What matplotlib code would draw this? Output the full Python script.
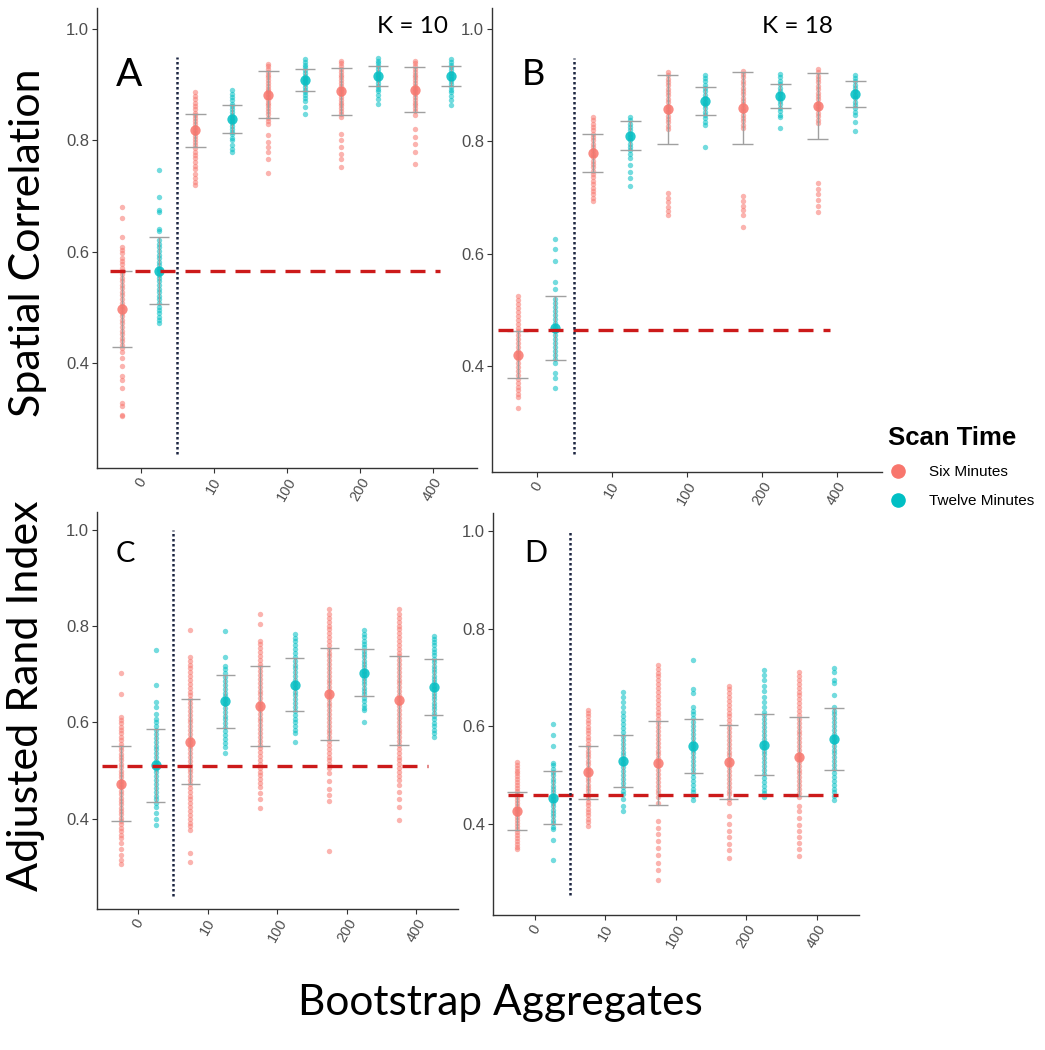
import numpy as np
import matplotlib
matplotlib.use('Agg')
import matplotlib.pyplot as plt
from matplotlib.lines import Line2D

# categories on the x axis
categories = ['0', '10', '100', '200', '400']
y_ticks = [0.4, 0.6, 0.8, 1.0]

# ---- Panel A: K = 10, spatial correlation ----
a_six = [
    [0.681, 0.660, 0.627, 0.609, 0.603, 0.598, 0.590, 0.584, 0.578, 0.571, 0.565, 0.560, 0.553, 0.547, 0.541,
     0.535, 0.528, 0.522, 0.515, 0.509, 0.503, 0.497, 0.491, 0.485, 0.478, 0.472, 0.466, 0.459, 0.452, 0.446,
     0.440, 0.433, 0.427, 0.420, 0.410, 0.395, 0.377, 0.371, 0.356, 0.329, 0.323, 0.308, 0.305],
    [0.887, 0.880, 0.874, 0.868, 0.862, 0.856, 0.850, 0.845, 0.840, 0.834, 0.829, 0.824, 0.818, 0.813, 0.808,
     0.802, 0.797, 0.791, 0.786, 0.780, 0.774, 0.768, 0.762, 0.755, 0.748, 0.740, 0.733, 0.725, 0.720],
    [0.937, 0.933, 0.928, 0.923, 0.918, 0.913, 0.908, 0.903, 0.898, 0.893, 0.888, 0.883, 0.878, 0.873, 0.868,
     0.863, 0.858, 0.853, 0.847, 0.841, 0.835, 0.830, 0.810, 0.798, 0.788, 0.779, 0.767, 0.741],
    [0.943, 0.938, 0.933, 0.928, 0.923, 0.918, 0.913, 0.908, 0.903, 0.898, 0.893, 0.888, 0.883, 0.878, 0.873,
     0.868, 0.863, 0.858, 0.853, 0.848, 0.842, 0.812, 0.800, 0.788, 0.776, 0.767, 0.753],
    [0.943, 0.938, 0.933, 0.928, 0.923, 0.918, 0.913, 0.908, 0.903, 0.898, 0.893, 0.888, 0.883, 0.878, 0.873,
     0.868, 0.863, 0.858, 0.852, 0.846, 0.820, 0.806, 0.794, 0.780, 0.758],
]
a_twelve = [
    [0.747, 0.699, 0.675, 0.671, 0.642, 0.637, 0.621, 0.615, 0.608, 0.601, 0.595, 0.589, 0.582, 0.576, 0.570,
     0.565, 0.559, 0.553, 0.547, 0.540, 0.534, 0.528, 0.521, 0.515, 0.509, 0.502, 0.496, 0.490, 0.484, 0.478, 0.472],
    [0.890, 0.884, 0.878, 0.872, 0.866, 0.861, 0.856, 0.851, 0.846, 0.841, 0.836, 0.831, 0.826, 0.821, 0.816,
     0.811, 0.805, 0.800, 0.792, 0.785, 0.779],
    [0.946, 0.941, 0.936, 0.931, 0.926, 0.921, 0.916, 0.911, 0.906, 0.901, 0.896, 0.891, 0.886, 0.881, 0.876,
     0.871, 0.860, 0.848],
    [0.948, 0.943, 0.938, 0.933, 0.928, 0.923, 0.918, 0.913, 0.908, 0.903, 0.898, 0.893, 0.888, 0.882, 0.875, 0.866],
    [0.946, 0.941, 0.936, 0.931, 0.926, 0.921, 0.916, 0.911, 0.906, 0.901, 0.896, 0.891, 0.886, 0.880, 0.872, 0.863],
]
a_six_mean = [0.497, 0.818, 0.882, 0.888, 0.891]
a_six_sd = [0.068, 0.029, 0.042, 0.042, 0.040]
a_twelve_mean = [0.566, 0.839, 0.908, 0.915, 0.915]
a_twelve_sd = [0.060, 0.025, 0.020, 0.018, 0.018]
a_baseline = 0.565

# ---- Panel B: K = 18, spatial correlation ----
b_six = [
    [0.525, 0.518, 0.511, 0.504, 0.497, 0.490, 0.483, 0.476, 0.469, 0.462, 0.455, 0.448, 0.441, 0.434, 0.427,
     0.420, 0.413, 0.406, 0.399, 0.392, 0.385, 0.378, 0.371, 0.364, 0.357, 0.350, 0.345, 0.326],
    [0.844, 0.838, 0.832, 0.826, 0.820, 0.814, 0.808, 0.802, 0.796, 0.790, 0.784, 0.778, 0.772, 0.766, 0.760,
     0.754, 0.748, 0.742, 0.736, 0.730, 0.724, 0.718, 0.712, 0.706, 0.700, 0.694],
    [0.924, 0.918, 0.912, 0.906, 0.900, 0.894, 0.888, 0.882, 0.876, 0.870, 0.864, 0.858, 0.852, 0.846, 0.840,
     0.834, 0.828, 0.822, 0.709, 0.700, 0.692, 0.684, 0.676, 0.670],
    [0.926, 0.920, 0.914, 0.908, 0.902, 0.896, 0.890, 0.884, 0.878, 0.872, 0.866, 0.860, 0.854, 0.848, 0.842,
     0.836, 0.830, 0.824, 0.703, 0.694, 0.686, 0.678, 0.670, 0.648],
    [0.929, 0.923, 0.917, 0.911, 0.905, 0.899, 0.893, 0.887, 0.881, 0.875, 0.869, 0.863, 0.857, 0.851, 0.845,
     0.839, 0.833, 0.726, 0.716, 0.706, 0.696, 0.686, 0.674],
]
b_twelve = [
    [0.626, 0.609, 0.588, 0.550, 0.538, 0.520, 0.512, 0.505, 0.498, 0.491, 0.484, 0.477, 0.470, 0.463, 0.456,
     0.449, 0.442, 0.435, 0.428, 0.420, 0.413, 0.406, 0.388, 0.380, 0.362],
    [0.844, 0.838, 0.832, 0.826, 0.820, 0.814, 0.808, 0.802, 0.796, 0.790, 0.784, 0.778, 0.770, 0.759, 0.746,
     0.735, 0.720],
    [0.919, 0.913, 0.907, 0.901, 0.895, 0.889, 0.883, 0.877, 0.871, 0.865, 0.859, 0.853, 0.847, 0.841, 0.835,
     0.829, 0.790],
    [0.920, 0.914, 0.908, 0.902, 0.896, 0.890, 0.884, 0.878, 0.872, 0.866, 0.860, 0.854, 0.848, 0.843, 0.824],
    [0.919, 0.913, 0.907, 0.901, 0.895, 0.889, 0.883, 0.877, 0.871, 0.865, 0.859, 0.853, 0.847, 0.835, 0.818],
]
b_six_mean = [0.421, 0.779, 0.857, 0.859, 0.863]
b_six_sd = [0.041, 0.034, 0.061, 0.064, 0.059]
b_twelve_mean = [0.468, 0.810, 0.872, 0.881, 0.885]
b_twelve_sd = [0.057, 0.026, 0.025, 0.022, 0.023]
b_baseline = 0.465

# ---- Panel C: K = 10, adjusted rand index ----
c_six = [
    [0.702, 0.659, 0.611, 0.605, 0.598, 0.591, 0.584, 0.577, 0.570, 0.563, 0.556, 0.549, 0.542, 0.535, 0.528,
     0.521, 0.514, 0.507, 0.500, 0.493, 0.486, 0.479, 0.472, 0.465, 0.458, 0.451, 0.444, 0.437, 0.430, 0.423,
     0.416, 0.409, 0.402, 0.395, 0.388, 0.381, 0.374, 0.367, 0.360, 0.350, 0.338, 0.325, 0.315, 0.305],
    [0.791, 0.735, 0.728, 0.720, 0.712, 0.704, 0.696, 0.688, 0.680, 0.672, 0.664, 0.656, 0.648, 0.640, 0.632,
     0.624, 0.616, 0.608, 0.600, 0.592, 0.584, 0.576, 0.568, 0.560, 0.552, 0.544, 0.536, 0.528, 0.520, 0.512,
     0.504, 0.496, 0.488, 0.480, 0.472, 0.464, 0.456, 0.448, 0.440, 0.432, 0.424, 0.416, 0.408, 0.400, 0.392,
     0.384, 0.377, 0.329, 0.310],
    [0.825, 0.805, 0.770, 0.762, 0.754, 0.746, 0.738, 0.730, 0.722, 0.714, 0.706, 0.698, 0.690, 0.682, 0.674,
     0.666, 0.658, 0.650, 0.642, 0.634, 0.626, 0.618, 0.610, 0.602, 0.594, 0.586, 0.578, 0.570, 0.562, 0.554,
     0.546, 0.538, 0.530, 0.522, 0.514, 0.506, 0.498, 0.490, 0.482, 0.474, 0.466, 0.453, 0.440, 0.422],
    [0.835, 0.825, 0.817, 0.809, 0.801, 0.793, 0.785, 0.777, 0.769, 0.761, 0.753, 0.745, 0.737, 0.729, 0.721,
     0.713, 0.705, 0.697, 0.689, 0.681, 0.673, 0.665, 0.657, 0.649, 0.641, 0.633, 0.625, 0.617, 0.609, 0.601,
     0.593, 0.585, 0.577, 0.569, 0.561, 0.553, 0.545, 0.537, 0.529, 0.521, 0.513, 0.505, 0.494, 0.478, 0.462,
     0.450, 0.436, 0.332],
    [0.835, 0.825, 0.817, 0.809, 0.801, 0.793, 0.785, 0.777, 0.769, 0.761, 0.753, 0.745, 0.737, 0.729, 0.721,
     0.713, 0.705, 0.697, 0.689, 0.681, 0.673, 0.665, 0.657, 0.649, 0.641, 0.633, 0.625, 0.617, 0.609, 0.601,
     0.593, 0.585, 0.577, 0.569, 0.561, 0.553, 0.545, 0.537, 0.529, 0.521, 0.513, 0.505, 0.497, 0.489, 0.481,
     0.470, 0.456, 0.440, 0.425, 0.398],
]
c_twelve = [
    [0.750, 0.677, 0.642, 0.632, 0.618, 0.608, 0.600, 0.592, 0.584, 0.576, 0.568, 0.560, 0.552, 0.544, 0.536,
     0.528, 0.520, 0.512, 0.504, 0.496, 0.488, 0.480, 0.472, 0.464, 0.456, 0.448, 0.440, 0.432, 0.424, 0.412,
     0.400, 0.387],
    [0.790, 0.736, 0.718, 0.710, 0.702, 0.694, 0.686, 0.678, 0.670, 0.662, 0.654, 0.646, 0.638, 0.630, 0.622,
     0.614, 0.606, 0.598, 0.590, 0.582, 0.574, 0.566, 0.557, 0.549, 0.537],
    [0.783, 0.776, 0.768, 0.760, 0.752, 0.744, 0.736, 0.728, 0.720, 0.712, 0.704, 0.696, 0.688, 0.680, 0.672,
     0.664, 0.656, 0.648, 0.640, 0.632, 0.624, 0.616, 0.608, 0.600, 0.592, 0.584, 0.577, 0.560],
    [0.791, 0.784, 0.777, 0.770, 0.763, 0.756, 0.749, 0.742, 0.735, 0.728, 0.721, 0.714, 0.707, 0.700, 0.693,
     0.686, 0.679, 0.672, 0.665, 0.658, 0.651, 0.644, 0.637, 0.630, 0.625, 0.601],
    [0.780, 0.774, 0.767, 0.760, 0.753, 0.746, 0.739, 0.732, 0.725, 0.718, 0.711, 0.704, 0.697, 0.690, 0.683,
     0.676, 0.669, 0.662, 0.655, 0.648, 0.641, 0.634, 0.627, 0.620, 0.613, 0.606, 0.599, 0.592, 0.585, 0.578, 0.570],
]
c_six_mean = [0.473, 0.560, 0.634, 0.659, 0.646]
c_six_sd = [0.078, 0.088, 0.084, 0.095, 0.092]
c_twelve_mean = [0.511, 0.644, 0.678, 0.703, 0.674]
c_twelve_sd = [0.076, 0.055, 0.055, 0.049, 0.058]
c_baseline = 0.510

# ---- Panel D: K = 18, adjusted rand index ----
d_six = [
    [0.526, 0.521, 0.515, 0.509, 0.503, 0.497, 0.491, 0.485, 0.479, 0.473, 0.467, 0.461, 0.455, 0.449, 0.443,
     0.437, 0.431, 0.425, 0.419, 0.413, 0.407, 0.401, 0.395, 0.389, 0.383, 0.377, 0.371, 0.365, 0.359, 0.353, 0.347],
    [0.633, 0.627, 0.620, 0.613, 0.606, 0.599, 0.592, 0.585, 0.578, 0.571, 0.564, 0.557, 0.550, 0.543, 0.536,
     0.529, 0.522, 0.515, 0.508, 0.501, 0.494, 0.487, 0.480, 0.473, 0.466, 0.459, 0.452, 0.445, 0.438, 0.431,
     0.424, 0.417, 0.410, 0.403, 0.395],
    [0.726, 0.718, 0.710, 0.702, 0.694, 0.686, 0.678, 0.670, 0.662, 0.654, 0.646, 0.638, 0.630, 0.622, 0.614,
     0.606, 0.598, 0.590, 0.582, 0.574, 0.566, 0.558, 0.550, 0.542, 0.534, 0.526, 0.518, 0.510, 0.502, 0.494,
     0.486, 0.478, 0.470, 0.462, 0.454, 0.443, 0.405, 0.392, 0.378, 0.365, 0.350, 0.335, 0.320, 0.305, 0.285],
    [0.683, 0.676, 0.668, 0.660, 0.652, 0.644, 0.636, 0.628, 0.620, 0.612, 0.604, 0.596, 0.588, 0.580, 0.572,
     0.564, 0.556, 0.548, 0.540, 0.532, 0.524, 0.516, 0.508, 0.500, 0.492, 0.484, 0.476, 0.468, 0.460, 0.451,
     0.443, 0.415, 0.400, 0.385, 0.372, 0.358, 0.345, 0.330],
    [0.711, 0.703, 0.695, 0.687, 0.679, 0.671, 0.663, 0.655, 0.647, 0.639, 0.631, 0.623, 0.615, 0.607, 0.599,
     0.591, 0.583, 0.575, 0.567, 0.559, 0.551, 0.543, 0.535, 0.527, 0.519, 0.511, 0.503, 0.495, 0.487, 0.479,
     0.471, 0.463, 0.455, 0.436, 0.425, 0.412, 0.398, 0.385, 0.373, 0.360, 0.347, 0.333],
]
d_twelve = [
    [0.605, 0.581, 0.559, 0.525, 0.520, 0.513, 0.506, 0.499, 0.492, 0.485, 0.478, 0.471, 0.464, 0.457, 0.450,
     0.443, 0.436, 0.429, 0.422, 0.415, 0.408, 0.401, 0.394, 0.388, 0.367, 0.326],
    [0.670, 0.660, 0.650, 0.640, 0.630, 0.620, 0.612, 0.604, 0.596, 0.588, 0.580, 0.572, 0.564, 0.556, 0.548,
     0.540, 0.532, 0.524, 0.516, 0.508, 0.500, 0.492, 0.484, 0.476, 0.468, 0.460, 0.450, 0.437, 0.425],
    [0.735, 0.676, 0.669, 0.640, 0.632, 0.624, 0.616, 0.608, 0.600, 0.592, 0.584, 0.576, 0.568, 0.560, 0.552,
     0.544, 0.536, 0.528, 0.520, 0.512, 0.504, 0.496, 0.488, 0.480, 0.472, 0.464, 0.456, 0.449],
    [0.716, 0.705, 0.694, 0.683, 0.672, 0.660, 0.650, 0.640, 0.630, 0.622, 0.614, 0.606, 0.598, 0.590, 0.582,
     0.574, 0.566, 0.558, 0.550, 0.542, 0.534, 0.526, 0.518, 0.510, 0.502, 0.494, 0.486, 0.478, 0.470, 0.462, 0.455],
    [0.720, 0.712, 0.695, 0.688, 0.664, 0.640, 0.632, 0.624, 0.616, 0.608, 0.600, 0.592, 0.584, 0.576, 0.568,
     0.560, 0.552, 0.544, 0.536, 0.528, 0.520, 0.512, 0.504, 0.496, 0.488, 0.480, 0.472, 0.464, 0.456, 0.449],
]
d_six_mean = [0.425, 0.505, 0.525, 0.526, 0.537]
d_six_sd = [0.039, 0.054, 0.086, 0.076, 0.081]
d_twelve_mean = [0.453, 0.529, 0.559, 0.562, 0.574]
d_twelve_sd = [0.054, 0.053, 0.056, 0.062, 0.064]
d_baseline = 0.458

six_color = '#F8766D'
twelve_color = '#00BFC4'

W, H = 1045, 1050
fig = plt.figure(figsize=(W / 100, H / 100), dpi=100)
plt.rcParams['font.family'] = ['Liberation Sans', 'DejaVu Sans']


def px_axes(left, top, right, bottom):
    # axes placed from pixel edges
    return fig.add_axes([left / W, 1 - bottom / H, (right - left) / W, (bottom - top) / H])


def draw_panel(ax, six, twelve, six_mean, six_sd, tw_mean, tw_sd, baseline, hspan, vspan):
    for i in range(len(categories)):
        for vals, m, sd, off, col in [(six[i], six_mean[i], six_sd[i], -0.25, six_color),
                                      (twelve[i], tw_mean[i], tw_sd[i], 0.25, twelve_color)]:
            x = i + 1 + off
            ax.scatter(np.full(len(vals), x), vals, s=15, color=col, alpha=0.55, linewidths=0, zorder=2)
            ax.vlines(x, m - sd, m + sd, color='#a0a0a0', lw=1, zorder=3)
            ax.hlines([m - sd, m + sd], x - 0.14, x + 0.14, color='#a0a0a0', lw=1, zorder=3)
            ax.scatter([x], [m], s=55, color=col, alpha=0.85, linewidths=0, zorder=4)
    ax.plot(hspan, [baseline, baseline], color='#cc1a1a', lw=2.4, dashes=(4.5, 3), zorder=5)
    ax.plot([1.5, 1.5], vspan, color='#1c2541', lw=1.8, ls=(0, (1, 1)), zorder=5)

    ax.set_xlim(0.4, 5.6)
    ax.set_ylim(0.2125, 1.0375)
    ax.set_xticks(range(1, 6))
    ax.set_xticklabels(categories, rotation=60, fontsize=10.5, color='#4d4d4d')
    ax.set_yticks(y_ticks)
    ax.set_yticklabels(['%.1f' % v for v in y_ticks], fontsize=12, color='#4d4d4d')
    for s in ['top', 'right']:
        ax.spines[s].set_visible(False)
    for s in ['left', 'bottom']:
        ax.spines[s].set_color('#333333')
        ax.spines[s].set_linewidth(1.0)
    ax.tick_params(length=3.5, width=0.8, color='#333333', pad=2)


ax_a = px_axes(96.7, 8, 476.6, 468)
draw_panel(ax_a, a_six, a_twelve, a_six_mean, a_six_sd, a_twelve_mean, a_twelve_sd, a_baseline,
           (0.585, 5.10), (0.237, 0.95))
ax_b = px_axes(491.7, 8, 881.5, 471.7)
draw_panel(ax_b, b_six, b_twelve, b_six_mean, b_six_sd, b_twelve_mean, b_twelve_sd, b_baseline,
           (0.486, 4.91), (0.244, 0.948))
ax_c = px_axes(96.7, 511.7, 458, 909)
draw_panel(ax_c, c_six, c_twelve, c_six_mean, c_six_sd, c_twelve_mean, c_twelve_sd, c_baseline,
           (0.476, 5.17), (0.24, 1.0))
ax_d = px_axes(492.7, 513, 858.9, 915)
draw_panel(ax_d, d_six, d_twelve, d_six_mean, d_six_sd, d_twelve_mean, d_twelve_sd, d_baseline,
           (0.62, 5.31), (0.254, 1.0))


def ftext(x, y, s, **kw):
    # text placed in figure pixels, measured from the top-left corner
    return fig.text(x / W, 1 - y / H, s, family='Lato', **kw)


# panel letters
ftext(116, 86, 'A', fontsize=28, va='baseline')
ftext(522, 85, 'B', fontsize=26, va='baseline')
ftext(116, 562, 'C', fontsize=21, va='baseline')
ftext(524, 562, 'D', fontsize=22, va='baseline')

# K labels
ftext(448, 33, 'K = 10', ha='right', va='baseline', fontsize=17.5)
ftext(833, 33, 'K = 18', ha='right', va='baseline', fontsize=17.5)

# axis titles
ftext(28, 243, 'Spatial Correlation', rotation=90, ha='center', va='center', fontsize=31)
ftext(26, 696, 'Adjusted Rand Index', rotation=90, ha='center', va='center', fontsize=31)
ftext(500, 1003, 'Bootstrap Aggregates', ha='center', va='center', fontsize=30.5)

# legend
handles = [Line2D([], [], ls='none', marker='o', ms=9.5, color=six_color),
           Line2D([], [], ls='none', marker='o', ms=9.5, color=twelve_color)]
leg = fig.legend(handles, ['Six Minutes', 'Twelve Minutes'], title='Scan Time',
                 loc='upper left', bbox_to_anchor=(874 / W, 1 - 412 / H), frameon=False,
                 fontsize=11, title_fontproperties={'weight': 'bold', 'size': 18.5},
                 alignment='left', handletextpad=1.3, labelspacing=1.0, handlelength=1.4)

fig.savefig('out.png', dpi=100)
